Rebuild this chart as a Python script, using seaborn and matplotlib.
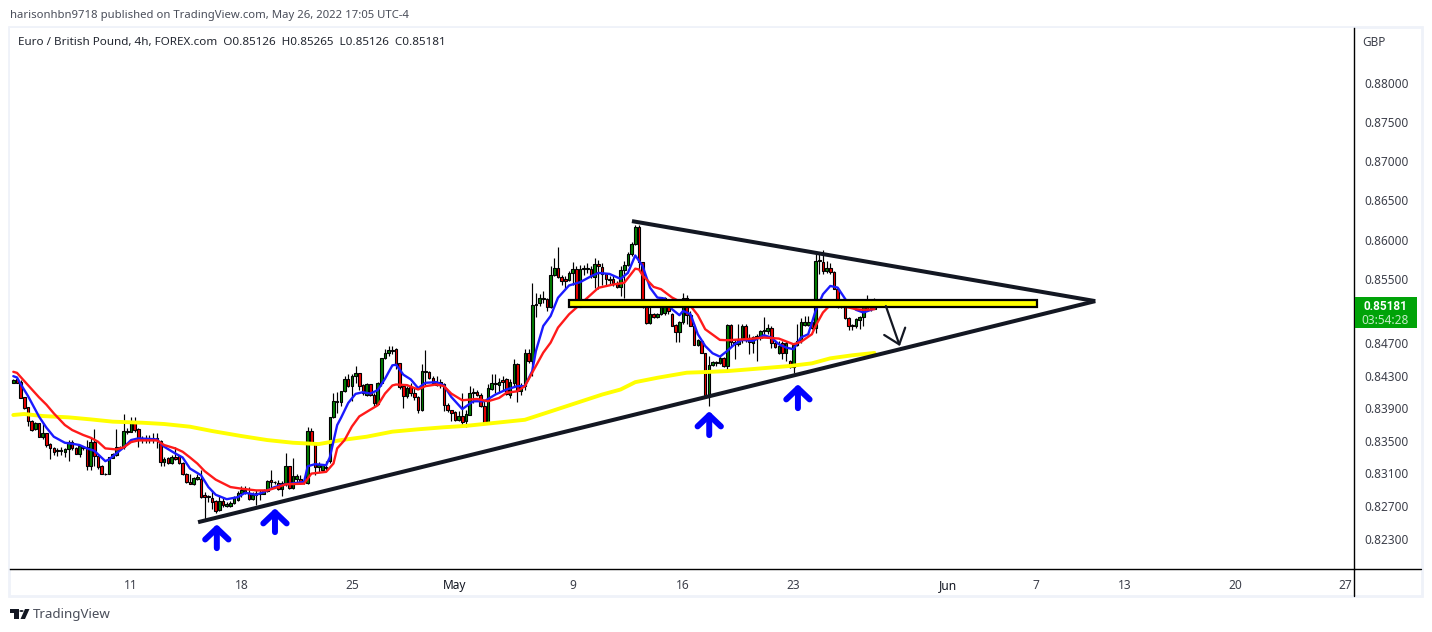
import numpy as np
import matplotlib
matplotlib.use("Agg")
import matplotlib.pyplot as plt
from matplotlib.lines import Line2D
from matplotlib.patches import Rectangle, Polygon, Circle
from matplotlib.ticker import NullLocator
import seaborn as sns

# 4h candles, values in 1e-5 of a pound
opens = [84211,84252,84215,84031,83908,83744,83637,83711,83547,83588,
    83453,83404,83367,83367,83363,83391,83486,83404,83338,83416,
    83416,83190,83486,83313,83186,83096,83096,83289,83326,83416,
    83416,83608,83608,83711,83637,83506,83526,83506,83526,83526,
    83494,83240,83289,83231,83301,83309,83231,83096,82994,82965,
    83035,83035,82830,82821,82801,82764,82653,82768,82698,82698,
    82735,82780,82862,82862,82862,82788,82830,82862,82850,82883,
    83014,82990,82985,82912,82981,83186,82924,83026,83035,83006,
    82985,83617,83465,83178,83145,83178,83252,83785,83990,83970,
    84107,84252,84170,84294,84336,84178,84066,84190,84066,83954,
    84211,84514,84576,84609,84626,84452,84170,84045,84161,84086,
    84037,83871,84360,84348,84273,84219,84178,84190,83941,83875,
    83850,83755,83796,83734,83817,84086,84099,84066,83929,83713,
    84140,84203,84182,84244,84253,84066,84211,84439,84107,84170,
    84585,84481,85178,85199,85257,85249,85157,85551,85643,85531,
    85498,85489,85580,85630,85157,85626,85626,85630,85527,85697,
    85655,85572,85506,85506,85456,85402,85614,85684,85821,85946,
    86158,85721,85168,84951,85064,85034,85064,85076,85168,85072,
    84926,84847,84960,85272,85051,84918,84681,84731,84585,84065,
    84427,84452,84452,84523,84419,84926,84722,84698,84764,84910,
    84772,84702,84764,84764,84856,84856,84897,84710,84585,84710,
    84585,84481,84411,84731,84731,84931,84931,84960,84897,85725,
    85721,85604,85646,85596,85384,85209,85201,85022,84926,84918,
    84993,85034,85159,85147,85126]
closes = [84244,84211,84027,83904,83744,83629,83711,83547,83588,83445,
    83404,83363,83383,83383,83391,83486,83404,83338,83432,83404,
    83186,83486,83313,83178,83096,83092,83293,83330,83416,83399,
    83617,83621,83711,83629,83506,83526,83506,83526,83506,83506,
    83240,83280,83227,83293,83280,83231,83088,82994,82969,83047,
    83055,82809,82809,82805,82756,82645,82768,82719,82727,82739,
    82793,82862,82899,82899,82788,82830,82862,82842,82883,83006,
    82994,82998,82912,82985,83186,82924,83067,83067,82994,82990,
    83617,83465,83178,83199,83203,83166,83785,83986,83973,84107,
    84252,84170,84294,84336,84170,84086,84190,84058,83962,84211,
    84522,84585,84614,84622,84439,84161,84045,84149,84086,84033,
    83871,84356,84348,84265,84211,84178,84219,83933,83871,83837,
    83755,83804,83726,83829,84086,84095,84058,83921,83713,84149,
    84203,84190,84223,84219,84078,84219,84439,84107,84170,84585,
    84481,85182,85195,85265,85269,85157,85560,85643,85531,85477,
    85481,85580,85630,85166,85630,85643,85643,85539,85693,85672,
    85568,85498,85489,85456,85406,85618,85684,85821,85946,86158,
    85721,85168,84951,85072,85034,85072,85284,85272,85105,84918,
    84847,84960,85272,85051,84918,84681,84739,84585,84065,84427,
    84469,84469,84523,84419,84926,84722,84698,84752,84910,84752,
    84722,84785,84793,84856,84868,84897,84710,84656,84668,84585,
    84710,84411,84681,84681,84960,84960,84960,84897,85729,85737,
    85604,85646,85596,85384,85209,85188,85022,84918,84910,85001,
    85034,85159,85126,85134,85181]
highs = [84252,84260,84244,84031,83916,83752,83723,83719,83711,83596,
    83465,83416,83404,83416,83404,83506,83506,83424,83445,83432,
    83506,83527,83637,83334,83199,83108,83301,83342,83637,83432,
    83822,83650,83785,83793,83650,83555,83568,83568,83588,83596,
    83506,83301,83301,83322,83424,83322,83240,83104,83088,83055,
    83096,83137,82871,82830,82891,82776,82830,82809,82748,82768,
    82817,82879,82940,82940,82932,82870,82891,82891,82912,83014,
    83137,83006,83014,83006,83342,83186,83281,83096,83076,83014,
    83662,83650,83486,83240,83211,83248,83793,84080,84101,84107,
    84294,84315,84315,84419,84336,84190,84203,84199,84086,84219,
    84522,84626,84668,84668,84638,84460,84190,84170,84211,84149,
    84045,84439,84614,84356,84294,84294,84253,84211,83962,83879,
    83858,83858,84086,83879,84170,84149,84120,84086,84004,84190,
    84315,84315,84273,84294,84273,84253,84502,84460,84211,84626,
    84626,85456,85332,85311,85352,85269,85664,85767,85904,85560,
    85539,85601,85718,85664,85684,85684,85705,85664,85767,85747,
    85705,85580,85539,85560,85477,85664,85726,85850,85975,86187,
    86187,85721,85188,85188,85084,85084,85284,85284,85209,85084,
    84939,84980,85334,85301,85105,84939,84752,84739,84585,84544,
    84481,84481,84544,84531,84939,84939,84752,84939,84939,84939,
    84814,84793,84814,84868,85034,84939,84918,84731,84731,84731,
    84731,84494,84689,84939,85022,85043,85043,84980,85833,85833,
    85866,85729,85708,85604,85396,85230,85209,85034,84939,85022,
    85043,85176,85301,85188,85265]
lows = [84203,84203,84018,83891,83678,83621,83629,83539,83514,83416,
    83272,83322,83313,83322,83301,83252,83383,83330,83293,83383,
    83145,83145,83186,83158,83088,83076,83088,83281,83313,83391,
    83391,83580,83600,83608,83424,83473,83473,83473,83473,83404,
    83186,83186,83219,83219,83260,83219,83076,82985,82965,82953,
    83014,82801,82530,82748,82665,82612,82645,82686,82694,82694,
    82727,82768,82809,82850,82776,82776,82719,82776,82842,82870,
    82912,82965,82899,82817,82940,82912,82912,82994,82973,82973,
    82965,83465,83076,83117,83129,83145,83227,83773,83834,83920,
    84099,84161,83983,84211,84128,84066,84045,84045,83920,83941,
    84170,84502,84543,84564,84377,84136,83900,84024,84045,84004,
    83838,83858,84170,84253,84190,84170,84149,83858,83846,83734,
    83734,83746,83692,83672,83817,83962,84045,83912,83713,83713,
    84128,84086,84086,84128,84066,84024,84170,83970,84066,84128,
    84460,84294,85033,85166,85199,85103,85145,85539,85518,85435,
    85373,85477,85435,85157,85157,85560,85580,85518,85394,85373,
    85435,85415,85435,85415,85394,85290,85269,85664,85788,85937,
    85625,85147,84939,84939,85022,85022,85051,85051,85064,84910,
    84718,84718,84939,84939,84910,84681,84668,84585,84057,83928,
    84419,84419,84440,84410,84344,84668,84502,84668,84710,84718,
    84564,84585,84481,84743,84793,84814,84648,84648,84564,84502,
    84481,84398,84336,84668,84710,84918,84918,84876,84827,85563,
    85563,85584,85563,85376,85147,85147,85001,84868,84868,84897,
    84876,84910,85105,85105,85126]

# moving averages, read at the listed bars
blue_bars = [0,1,2,4,7,9,11,14,16,18,20,22,25,26,28,30,32,34,39,41,44,46,48,51,53,55,58,61,63,66,68,71,74,79,80,82,85,86,88,
    89,91,93,95,97,99,101,103,104,106,108,110,112,115,117,119,122,125,128,131,134,137,139,141,142,144,146,148,151,154,157,159,162,165,167,
    169,171,173,175,177,179,181,182,184,186,188,190,192,194,196,198,201,204,206,208,210,212,214,216,218,220,222,224,227,229,231,234]
blue_vals = [84293,84277,84195,84047,83793,83658,83547,83473,83461,83445,83404,83375,83248,83268,83342,83416,83506,83527,83514,83424,83342,83293,83158,83076,82932,82838,82784,82809,82862,82838,82870,82932,82965,82994,83186,83211,83198,83293,83690,
    83775,83962,84074,84095,84078,84120,84261,84427,84435,84311,84253,84145,84211,84219,84178,84037,83887,83983,83983,84066,84128,84170,84170,84356,84605,84917,85041,85269,85423,85464,85539,85581,85568,85506,85581,
    85800,85667,85396,85272,85259,85126,85051,85105,85064,84814,84668,84577,84535,84606,84689,84743,84731,84801,84772,84689,84648,84627,84772,84814,85105,85313,85417,85396,85188,85118,85084,85134]
red_bars = [0,1,3,7,9,11,14,16,19,21,23,25,28,30,32,34,39,41,44,46,48,50,52,55,59,62,66,69,72,74,79,81,85,87,88,
    90,92,94,97,99,101,103,104,107,110,112,115,117,119,122,126,129,132,134,137,139,141,144,146,148,151,154,157,159,163,166,
    169,170,171,174,176,179,182,184,186,188,192,194,199,204,208,212,214,217,218,220,222,225,229,231,234]
red_vals = [84347,84334,84232,84031,83941,83834,83691,83629,83568,83535,83486,83404,83391,83416,83481,83502,83502,83445,83404,83363,83293,83219,83125,83022,82932,82912,82891,82891,82932,82965,82973,83096,83117,83219,83404,
    83505,83672,83796,83879,83933,84078,84178,84190,84182,84128,84170,84190,84170,84078,83995,84012,83983,84024,84087,84107,84170,84336,84585,84709,84896,85062,85186,85311,85394,85435,85456,
    85634,85625,85550,85405,85376,85272,85201,85168,85051,84876,84743,84739,84752,84772,84760,84689,84718,84814,84918,85084,85180,85168,85126,85118,85126]
yellow_bars = [0,3,8,15,21,27,35,41,48,54,62,69,76,83,89,96,103,110,117,123,130,139,146,153,160,165,169,175,183,188,194,202,211,217,222,228,234]
yellow_vals = [83814,83826,83801,83785,83760,83732,83719,83703,83670,83617,83555,83506,83473,83457,83505,83547,83609,83638,83663,83680,83713,83755,83858,83962,84066,84128,84219,84273,84336,84344,84356,84385,84419,84452,84514,84552,84581]

# hand drawn objects on the chart: bar position and price
lower_trend_bars = [50.2, 294]
lower_trend_prices = [0.82505, 0.85227]
upper_trend_bars = [168.1, 294]
upper_trend_prices = [0.86234, 0.85227]
zone_bars = [151, 278.2]
zone_prices = [0.85152, 0.85239]
drop_arrow_bars = [237.1, 240.9]
drop_arrow_prices = [0.85165, 0.84666]
up_arrow_bars = [55.3, 71.1, 189.1, 213.2]
up_arrow_tips = [0.82480, 0.82675, 0.83861, 0.84194]
up_arrow_tails = [0.82191, 0.82385, 0.83567, 0.83898]

price_ticks = [0.880, 0.875, 0.870, 0.865, 0.860, 0.855, 0.847, 0.843, 0.839, 0.835, 0.831, 0.827, 0.823]
date_ticks = [32, 62, 92, 120, 152, 182, 212, 254, 278, 302, 332, 362]
date_labels = ["11", "18", "25", "May", "9", "16", "23", "Jun", "7", "13", "20", "27"]

W, H = 1432, 632
TXT = "#3c3f4a"


def fx(x):
    return x / W


def fy(y):
    return 1 - y / H


sns.set_theme(style="white")
plt.rcParams["font.family"] = ["Noto Sans", "DejaVu Sans"]

fig = plt.figure(figsize=(W / 100, H / 100), dpi=100, facecolor="white")
ax = fig.add_axes([fx(10), fy(569), (1354 - 10) / W, (569 - 28) / H])

o = np.array(opens) / 1e5
c = np.array(closes) / 1e5
hi = np.array(highs) / 1e5
lo = np.array(lows) / 1e5
bars = np.arange(len(o))
colors = np.where(c >= o, "#008000", "#f00000")

ax.vlines(bars, lo, hi, color="black", lw=0.85, zorder=2)
ax.bar(bars, np.abs(c - o), bottom=np.minimum(o, c), width=0.7, color=colors,
       edgecolor="black", linewidth=0.8, zorder=2.1)

sns.lineplot(x=yellow_bars, y=np.array(yellow_vals) / 1e5, color="#ffff00", lw=2.8,
             estimator=None, ax=ax, zorder=2.5)
sns.lineplot(x=blue_bars, y=np.array(blue_vals) / 1e5, color="#1a1aff", lw=1.7,
             estimator=None, ax=ax, zorder=3)
sns.lineplot(x=red_bars, y=np.array(red_vals) / 1e5, color="#ff1a1a", lw=1.7,
             estimator=None, ax=ax, zorder=3.1)

ax.add_patch(Rectangle((zone_bars[0], zone_prices[0]), zone_bars[1] - zone_bars[0],
                       zone_prices[1] - zone_prices[0], facecolor="#ffff00",
                       edgecolor="black", lw=1.6, zorder=4))
ax.plot(lower_trend_bars, lower_trend_prices, color="#131722", lw=2.9, zorder=5, solid_capstyle="butt")
ax.plot(upper_trend_bars, upper_trend_prices, color="#131722", lw=2.9, zorder=5, solid_capstyle="butt")

ax.annotate("", xy=(drop_arrow_bars[1], drop_arrow_prices[1]), xytext=(drop_arrow_bars[0], drop_arrow_prices[0]),
            arrowprops=dict(arrowstyle="->,head_length=0.5,head_width=0.4", mutation_scale=20,
                            color="#131722", lw=1.6, shrinkA=0, shrinkB=0), zorder=6)
for b, tip, tail in zip(up_arrow_bars, up_arrow_tips, up_arrow_tails):
    ax.annotate("", xy=(b, tip), xytext=(b, tail),
                arrowprops=dict(arrowstyle="->,head_length=0.4,head_width=0.42", mutation_scale=20,
                                color="#0000ff", lw=4.3, shrinkA=0, shrinkB=0), zorder=6)

ax.set_yscale("log")
ax.set_ylim(0.8194, 0.88714)
ax.set_xlim(-0.9, 364.3)
ax.yaxis.tick_right()
ax.set_yticks(price_ticks)
ax.set_yticklabels(["%.5f" % p for p in price_ticks])
ax.yaxis.set_minor_locator(NullLocator())
ax.set_xticks(date_ticks)
ax.set_xticklabels(date_labels)
ax.tick_params(axis="y", length=0, pad=7.5, labelsize=8.5, labelcolor=TXT)
ax.tick_params(axis="x", length=0, pad=7, labelsize=8.6, labelcolor=TXT)
for lab in ax.get_xticklabels():
    if lab.get_text() in ("May", "Jun"):
        lab.set_color("#131722")
ax.set_xlabel("")
ax.set_ylabel("")
ax.grid(False)
for side in ("top", "left"):
    ax.spines[side].set_visible(False)
for side in ("right", "bottom"):
    ax.spines[side].set_color("black")
    ax.spines[side].set_linewidth(1.0)

# frame around the chart, axis lines carry on to it
fig.add_artist(Rectangle((fx(9), fy(596)), (1421.5 - 9) / W, (596 - 27) / H, transform=fig.transFigure,
                         fill=False, edgecolor="#eff2f9", lw=2.0, zorder=0))
fig.add_artist(Line2D([fx(1354), fx(1421)], [fy(569), fy(569)], color="black", lw=1.0))
fig.add_artist(Line2D([fx(1354), fx(1354)], [fy(569), fy(596)], color="black", lw=1.0))

fig.text(fx(10), fy(15.5), "harisonhbn9718 published on TradingView.com, May 26, 2022 17:05 UTC-4",
         fontsize=8.15, color="#4a4e5a", va="center")
fig.text(fx(18), fy(43), "Euro / British Pound, 4h, FOREX.com  O0.85126  H0.85265  L0.85126  C0.85181",
         fontsize=8.4, color="#222630", va="center")
fig.text(fx(1362), fy(42), "GBP", fontsize=8.5, color=TXT, va="center")

# last price tag
fig.add_artist(Rectangle((fx(1354.5), fy(327.5)), 62.5 / W, 30.5 / H, transform=fig.transFigure,
                         facecolor="#00a308", edgecolor="none", zorder=5))
fig.text(fx(1385), fy(306.5), "0.85181", fontsize=8.5, color="white", fontweight="bold",
         family="Roboto", ha="center", va="center", zorder=6)
fig.text(fx(1385), fy(320.5), "03:54:28", fontsize=8.5, color="#c4ecc6", ha="center", va="center", zorder=6)

# logo
logo = "#131722"
fig.add_artist(Rectangle((fx(10), fy(613)), 9 / W, 4 / H, transform=fig.transFigure, facecolor=logo, edgecolor="none"))
fig.add_artist(Rectangle((fx(14), fy(619)), 5 / W, 10 / H, transform=fig.transFigure, facecolor=logo, edgecolor="none"))
fig.add_artist(Circle((fx(21.5), fy(611)), 2.1 / W, transform=fig.transFigure, facecolor=logo, edgecolor="none"))
fig.add_artist(Polygon([(fx(20.5), fy(619)), (fx(25), fy(619)), (fx(29.5), fy(609)), (fx(25), fy(609))],
                       transform=fig.transFigure, facecolor=logo, edgecolor="none"))
fig.text(fx(33), fy(614.5), "TradingView", fontsize=9.6, color="#4a4e5a", va="center")

fig.savefig("out.png", dpi=100)
